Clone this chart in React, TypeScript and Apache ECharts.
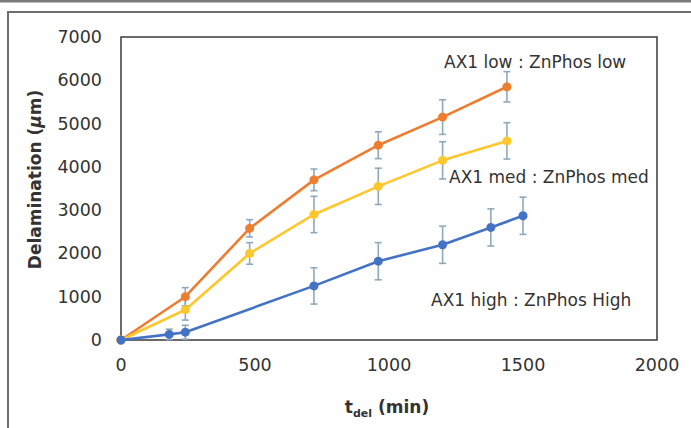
import React, { useEffect, useRef } from "react";
import * as echarts from "echarts";

// ---- data ----
const lowTimes = [0, 240, 480, 720, 960, 1200, 1440];
const lowValues = [0, 1000, 2580, 3700, 4500, 5150, 5850];
const lowErrors = [0, 210, 200, 250, 310, 400, 350];

const medTimes = [0, 240, 480, 720, 960, 1200, 1440];
const medValues = [0, 700, 2000, 2900, 3550, 4150, 4600];
const medErrors = [0, 240, 250, 420, 420, 430, 420];

const highTimes = [0, 180, 240, 720, 960, 1200, 1380, 1500];
const highValues = [0, 130, 180, 1250, 1820, 2200, 2600, 2870];
const highErrors = [0, 120, 160, 420, 430, 430, 430, 430];

const seriesLabels = [
  "AX1 low : ZnPhos low",
  "AX1 med : ZnPhos med",
  "AX1 high : ZnPhos High",
];

const COLORS = ["#ED7D31", "#FFC72C", "#4472C4"];
const ERR_COLOR = "#8FA9BC";
const FONT = "DejaVu Sans";

function pairs(xs: number[], ys: number[]) {
  return xs.map((x, i) => [x, ys[i]]);
}
function errData(xs: number[], ys: number[], es: number[]) {
  return xs
    .map((x, i) => [x, ys[i] - es[i], ys[i] + es[i], es[i]])
    .filter((d) => d[3] > 0);
}

export default function App() {
  const ref = useRef<HTMLDivElement>(null);
  useEffect(() => {
    document.body.style.margin = "0";
    const chart = echarts.init(ref.current!, undefined, { renderer: "svg" });

    const errSeries = (data: number[][]) => ({
      type: "custom",
      z: 1,
      data,
      encode: { x: 0, y: [1, 2] },
      renderItem: (params: any, api: any) => {
        const x = api.value(0);
        const p1 = api.coord([x, api.value(1)]);
        const p2 = api.coord([x, api.value(2)]);
        const w = 3.5;
        const st = { stroke: ERR_COLOR, lineWidth: 1.6 };
        return {
          type: "group",
          children: [
            { type: "line", shape: { x1: p1[0], y1: p1[1], x2: p2[0], y2: p2[1] }, style: st },
            { type: "line", shape: { x1: p1[0] - w, y1: p1[1], x2: p1[0] + w, y2: p1[1] }, style: st },
            { type: "line", shape: { x1: p2[0] - w, y1: p2[1], x2: p2[0] + w, y2: p2[1] }, style: st },
          ],
        };
      },
    });

    const lineSeries = (name: string, data: number[][], color: string, z: number) => ({
      type: "line",
      name,
      data,
      z,
      symbol: "circle",
      symbolSize: 9,
      showSymbol: true,
      lineStyle: { color, width: 2.6 },
      itemStyle: { color },
    });

    const plain = (v: number) => String(v);

    chart.setOption({
      animation: false,
      grid: {
        left: 121,
        right: 34,
        top: 37,
        bottom: 88,
        show: true,
        borderColor: "#3a3a3a",
        borderWidth: 1.5,
      },
      xAxis: {
        type: "value",
        min: 0,
        max: 2000,
        interval: 500,
        axisLine: { show: false },
        axisTick: { show: false },
        splitLine: { show: false },
        axisLabel: { color: "#333", fontSize: 17.5, fontFamily: FONT, margin: 16, formatter: plain },
        name: "{t|t}{s|del}{t| (min)}",
        nameLocation: "middle",
        nameGap: 55,
        nameTextStyle: {
          padding: [0, 4, 0, 0],
          rich: {
            t: { fontSize: 17, fontWeight: "bold", fontFamily: FONT, color: "#333", lineHeight: 24 },
            s: { fontSize: 11, fontWeight: "bold", fontFamily: FONT, color: "#333", lineHeight: 11, verticalAlign: "bottom" },
          },
        },
      },
      yAxis: {
        type: "value",
        min: 0,
        max: 7000,
        interval: 1000,
        axisLine: { show: false },
        axisTick: { show: false },
        splitLine: { show: false },
        axisLabel: { color: "#333", fontSize: 17.5, fontFamily: FONT, margin: 19, formatter: plain },
        name: "{b|Delamination (}{i|μ}{b|m)}",
        nameLocation: "middle",
        nameGap: 78,
        nameTextStyle: {
          padding: [0, 0, 0, 18],
          rich: {
            b: { fontSize: 17, fontWeight: "bold", fontFamily: FONT, color: "#333" },
            i: { fontSize: 17, fontWeight: "bold", fontStyle: "italic", fontFamily: FONT, color: "#333" },
          },
        },
      },
      graphic: [
        { type: "line", shape: { x1: 0, y1: 1, x2: 691, y2: 1 }, style: { stroke: "#7a7a7a", lineWidth: 3 }, silent: true },
        { type: "rect", shape: { x: 8, y: 12, width: 720, height: 440 }, style: { fill: "none", stroke: "#6e6e6e", lineWidth: 2 }, silent: true },
        { type: "text", x: 444, y: 62, style: { text: seriesLabels[0], font: `17px "${FONT}"`, fill: "#333", textVerticalAlign: "middle" } },
        { type: "text", x: 449, y: 177, style: { text: seriesLabels[1], font: `17px "${FONT}"`, fill: "#333", textVerticalAlign: "middle" } },
        { type: "text", x: 431, y: 300, style: { text: seriesLabels[2], font: `17px "${FONT}"`, fill: "#333", textVerticalAlign: "middle" } },
      ],
      series: [
        errSeries(errData(lowTimes, lowValues, lowErrors)),
        errSeries(errData(medTimes, medValues, medErrors)),
        errSeries(errData(highTimes, highValues, highErrors)),
        lineSeries(seriesLabels[0], pairs(lowTimes, lowValues), COLORS[0], 2),
        lineSeries(seriesLabels[1], pairs(medTimes, medValues), COLORS[1], 3),
        lineSeries(seriesLabels[2], pairs(highTimes, highValues), COLORS[2], 4),
      ],
    });
    return () => chart.dispose();
  }, []);
  return (
    <div
      ref={ref}
      style={{ width: 691, height: 428, position: "absolute", left: 0, top: 0, background: "#fff" }}
    />
  );
}
